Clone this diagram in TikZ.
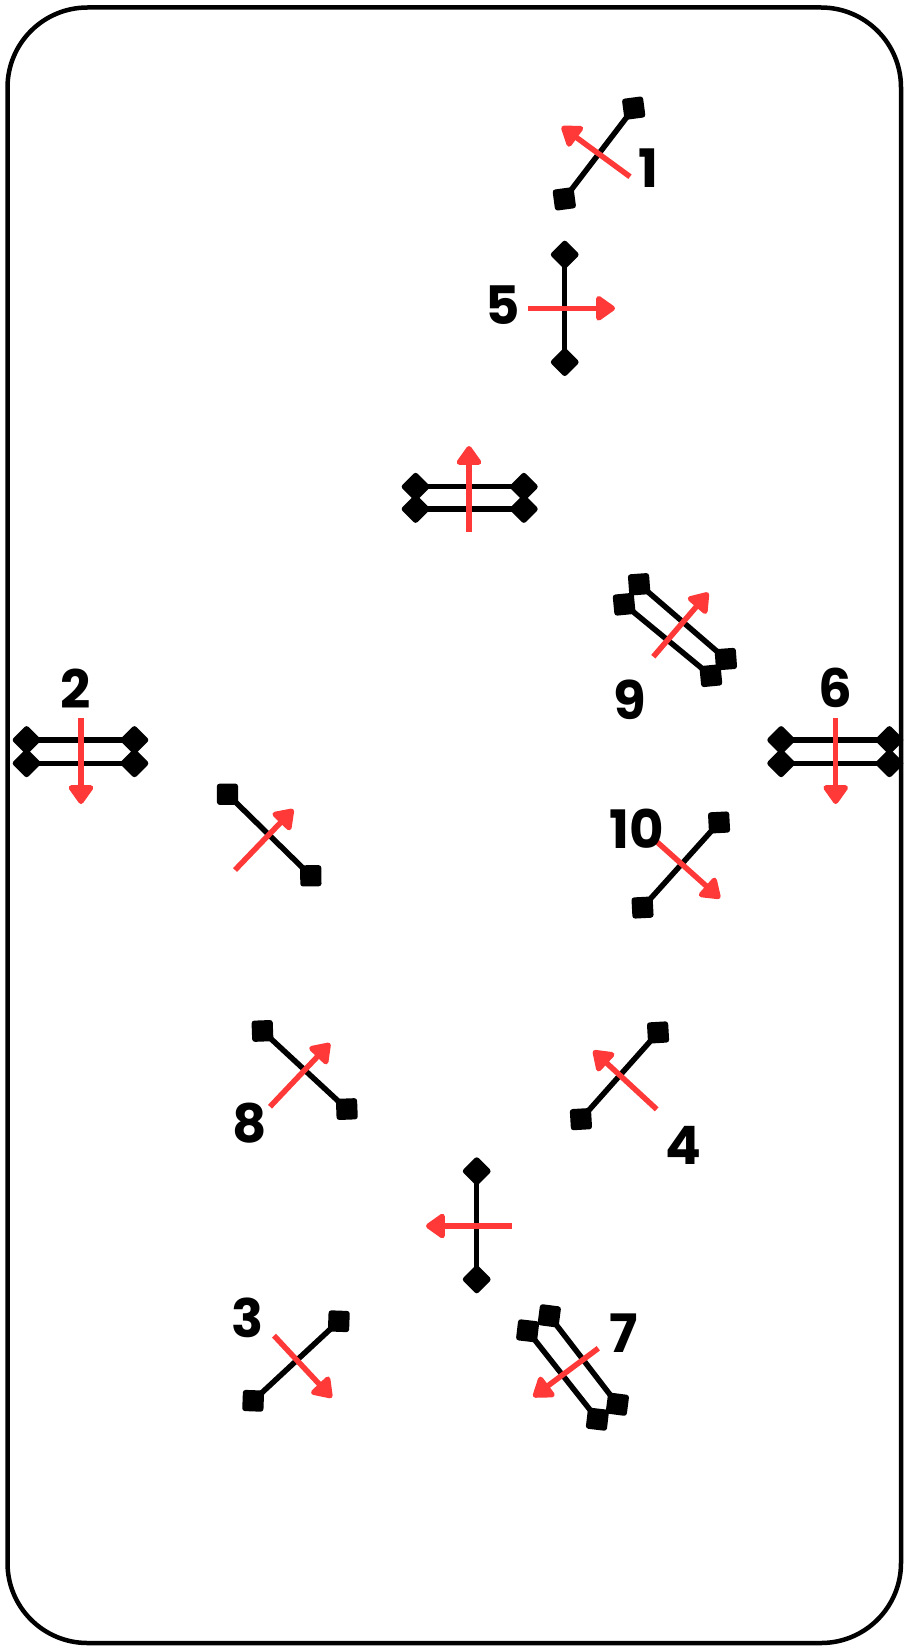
\documentclass[tikz,border=0pt]{standalone}
\usepackage{fontspec}
\newfontfamily\numfont{Poppins}
\usepackage{xcolor}
\definecolor{myred}{RGB}{255,56,56}
\usetikzlibrary{arrows.meta}

\begin{document}
\begin{tikzpicture}[
  x=1pt, y=-1pt,
  bar/.style={line width=5.5pt, black,
              {Diamond[length=30pt, width=30pt, round]}-{Diamond[length=30pt, width=30pt, round]},
              shorten <=-15pt, shorten >=-15pt},
  push/.style={line width=5.5pt, myred,
               -{Triangle[length=21pt, width=28pt, round]}},
  num/.style={font=\numfont\bfseries\fontsize{53}{53}\selectfont,
              inner sep=0pt},
  frame/.style={line width=4.5pt, rounded corners=80pt},
]
\useasboundingbox (0,0) rectangle (903,1646);

%% --- cadre ---
\draw[frame] (7.5,7.5) rectangle (901,1643);

%% --- 1 ---
\coordinate (a1) at (565,198);   \coordinate (b1) at (633,109);
\coordinate (p1) at (630,176.7); \coordinate (q1) at (561.7,126.7);
\draw[bar] (a1) -- (b1);
\draw[push] (p1) -- (q1);
\node[num] (n1) at (648,168) {1};

%% --- 5 ---
\coordinate (a5) at (564.7,255.7); \coordinate (b5) at (564.7,361);
\coordinate (p5) at (528.3,308.3); \coordinate (q5) at (615,308.3);
\draw[bar] (a5) -- (b5);
\draw[push] (p5) -- (q5);
\node[num] (n5) at (502.7,305) {5};

%% --- barre double du haut ---
\coordinate (a0) at (416.7,486.7); \coordinate (b0) at (522.7,486.7);
\coordinate (c0) at (416.7,509);   \coordinate (d0) at (522.7,509);
\coordinate (p0) at (469,531.7);   \coordinate (q0) at (469,446);
\draw[bar] (a0) -- (b0);
\draw[bar] (c0) -- (d0);
\draw[push] (p0) -- (q0);

%% --- 9 ---
\coordinate (a9) at (640,585);     \coordinate (b9) at (725,658.3);
\coordinate (c9) at (625,605);     \coordinate (d9) at (710,675);
\coordinate (p9) at (653.3,656.7); \coordinate (q9) at (708.3,592.7);
\draw[bar] (a9) -- (b9);
\draw[bar] (c9) -- (d9);
\draw[push] (p9) -- (q9);
\node[num] (n9) at (630,700) {9};

%% --- 2 ---
\coordinate (a2) at (27.7,740);    \coordinate (b2) at (133.3,740);
\coordinate (c2) at (27.7,763.3);  \coordinate (d2) at (133.3,763.3);
\coordinate (p2) at (81,718.3);    \coordinate (q2) at (81,804);
\draw[bar] (a2) -- (b2);
\draw[bar] (c2) -- (d2);
\draw[push] (p2) -- (q2);
\node[num] (n2) at (76,688.3) {2};

%% --- 6 ---
\coordinate (a6) at (782.3,740);   \coordinate (b6) at (888.3,740);
\coordinate (c6) at (782.3,763.3); \coordinate (d6) at (888.3,763.3);
\coordinate (p6) at (835.7,718.3); \coordinate (q6) at (835.7,804);
\draw[bar] (a6) -- (b6);
\draw[bar] (c6) -- (d6);
\draw[push] (p6) -- (q6);
\node[num] (n6) at (835,688.3) {6};

%% --- barre sans numero, gauche ---
\coordinate (a11) at (228.3,795);  \coordinate (b11) at (310,875);
\coordinate (p11) at (235,870);    \coordinate (q11) at (293.3,809.3);
\draw[bar] (a11) -- (b11);
\draw[push] (p11) -- (q11);

%% --- 10 ---
\coordinate (a10) at (643.3,906.7); \coordinate (b10) at (718.3,823.3);
\coordinate (p10) at (656.7,841.7); \coordinate (q10) at (720,898.3);
\draw[bar] (a10) -- (b10);
\draw[push] (p10) -- (q10);
\node[num] (n10) at (636.7,828.3) {10};

%% --- 8 ---
\coordinate (a8) at (263.3,1031.7); \coordinate (b8) at (346,1108.3);
\coordinate (p8) at (270,1106.7);   \coordinate (q8) at (330,1043.3);
\draw[bar] (a8) -- (b8);
\draw[push] (p8) -- (q8);
\node[num] (n8) at (250,1123.3) {8};

%% --- 4 ---
\coordinate (a4) at (581.7,1118.3); \coordinate (b4) at (657.3,1033.3);
\coordinate (p4) at (656.7,1109.3); \coordinate (q4) at (593.3,1050.7);
\draw[bar] (a4) -- (b4);
\draw[push] (p4) -- (q4);
\node[num] (n4) at (683.3,1145) {4};

%% --- barre verticale du bas ---
\coordinate (a12) at (476.7,1172.3); \coordinate (b12) at (476.7,1278.3);
\coordinate (p12) at (511.7,1226);   \coordinate (q12) at (426,1226);
\draw[bar] (a12) -- (b12);
\draw[push] (p12) -- (q12);

%% --- 3 ---
\coordinate (a3) at (254,1400);     \coordinate (b3) at (338,1322);
\coordinate (p3) at (274,1335.6);   \coordinate (q3) at (331.8,1397.6);
\draw[bar] (a3) -- (b3);
\draw[push] (p3) -- (q3);
\node[num] (n3) at (248,1318) {3};

%% --- 7 ---
\coordinate (a7) at (550,1316.7);   \coordinate (b7) at (616.7,1403.3);
\coordinate (c7) at (528.3,1331.7); \coordinate (d7) at (596.7,1418.3);
\coordinate (p7) at (598.3,1348.3); \coordinate (q7) at (533.3,1396.7);
\draw[bar] (a7) -- (b7);
\draw[bar] (c7) -- (d7);
\draw[push] (p7) -- (q7);
\node[num] (n7) at (623.3,1333.3) {7};
\end{tikzpicture}
\end{document}
